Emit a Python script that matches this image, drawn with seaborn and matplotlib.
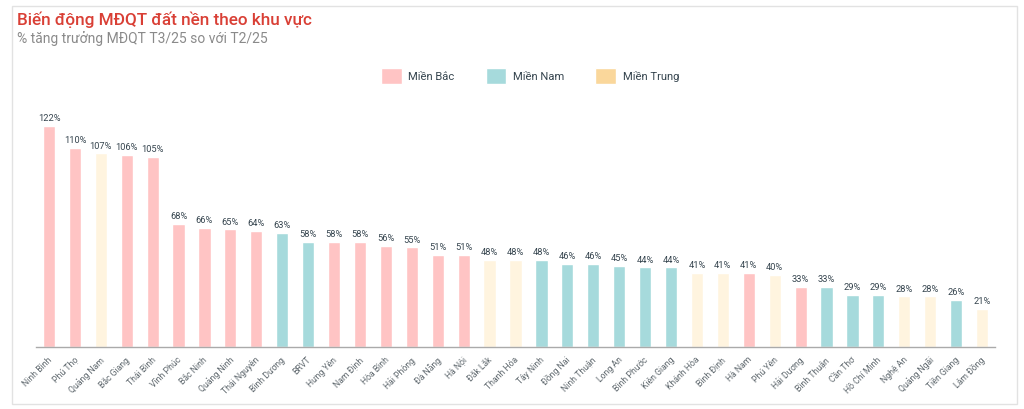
import matplotlib
matplotlib.use("Agg")
import matplotlib.pyplot as plt
from matplotlib.patches import Patch, Rectangle
from matplotlib.transforms import ScaledTranslation
import pandas as pd
import seaborn as sns

provinces = ["Ninh Bình", "Phú Thọ", "Quảng Nam", "Bắc Giang", "Thái Bình", "Vĩnh Phúc", "Bắc Ninh",
             "Quảng Ninh", "Thái Nguyên", "Bình Dương", "BRVT", "Hưng Yên", "Nam Định", "Hòa Bình",
             "Hải Phòng", "Đà Nẵng", "Hà Nội", "Đắk Lắk", "Thanh Hóa", "Tây Ninh", "Đồng Nai",
             "Ninh Thuận", "Long An", "Bình Phước", "Kiên Giang", "Khánh Hòa", "Bình Định", "Hà Nam",
             "Phú Yên", "Hải Dương", "Bình Thuận", "Cần Thơ", "Hồ Chí Minh", "Nghệ An", "Quảng Ngãi",
             "Tiền Giang", "Lâm Đồng"]
growth = [122, 110, 107, 106, 105, 68, 66, 65, 64, 63, 58, 58, 58, 56, 55, 51, 51, 48, 48, 48, 46,
          46, 45, 44, 44, 41, 41, 41, 40, 33, 33, 29, 29, 28, 28, 26, 21]
regions = ["Miền Bắc", "Miền Bắc", "Miền Trung", "Miền Bắc", "Miền Bắc", "Miền Bắc", "Miền Bắc",
           "Miền Bắc", "Miền Bắc", "Miền Nam", "Miền Nam", "Miền Bắc", "Miền Bắc", "Miền Bắc",
           "Miền Bắc", "Miền Bắc", "Miền Bắc", "Miền Trung", "Miền Trung", "Miền Nam", "Miền Nam",
           "Miền Nam", "Miền Nam", "Miền Nam", "Miền Nam", "Miền Trung", "Miền Trung", "Miền Bắc",
           "Miền Trung", "Miền Bắc", "Miền Nam", "Miền Nam", "Miền Nam", "Miền Trung", "Miền Trung",
           "Miền Nam", "Miền Trung"]
bar_colors = {"Miền Bắc": "#FFC4C4", "Miền Nam": "#A6DADC", "Miền Trung": "#FFF4DF"}
legend_colors = {"Miền Bắc": "#FFC4C4", "Miền Nam": "#A6DADC", "Miền Trung": "#FAD79B"}

sns.set_theme(style="white")
plt.rcParams["font.family"] = ["Roboto", "DejaVu Sans"]

W, H = 1024, 409
df = pd.DataFrame({"province": provinces, "growth": growth, "region": regions})

fig = plt.figure(figsize=(W / 100, H / 100), dpi=100)
# card border, behind the axes
fig.add_artist(Rectangle((12 / W, 1 - 404 / H), 1005 / W, 398 / H, transform=fig.transFigure,
                         facecolor="white", edgecolor="#E2E2E2", linewidth=1, zorder=-1))

ax = fig.add_axes([36 / W, 1 - 347 / H, 959 / W, 237 / H])
ax.patch.set_alpha(0)
sns.barplot(data=df, x="province", y="growth", hue="region", order=provinces, palette=bar_colors,
            dodge=False, width=0.47, saturation=1, legend=False, ax=ax)
for c in ax.containers:
    ax.bar_label(c, fmt="%d%%", padding=2, fontsize=6.7, color="#36454F")

ax.set_xlim(-0.5, len(provinces) - 0.5)
ax.set_ylim(0, 237 / 1.81)
ax.set_xlabel("")
ax.set_ylabel("")
ax.set_yticks([])
ax.tick_params(axis="x", length=0, pad=6)
plt.setp(ax.get_xticklabels(), rotation=45, ha="right", rotation_mode="anchor", fontsize=6.2, color="#5F686E")
shift = ScaledTranslation(-1.5 / 100, 0, fig.dpi_scale_trans)
for lab in ax.get_xticklabels():
    lab.set_transform(lab.get_transform() + shift)
sns.despine(ax=ax, left=True)
ax.spines["bottom"].set_color("#AAAAAA")
ax.spines["bottom"].set_linewidth(1)

fig.text(17 / W, 1 - 20 / H, "Biến động MĐQT đất nền theo khu vực", fontsize=12.3, fontweight="medium",
         color="#D93F35", va="center")
fig.text(17 / W, 1 - 39 / H, "% tăng trưởng MĐQT T3/25 so với T2/25", fontsize=10.03, color="#8A8A8A", va="center")

handles = [Patch(facecolor=legend_colors[r], label=r) for r in legend_colors]
fig.legend(handles=handles, loc="center", bbox_to_anchor=(530 / W, 1 - 76 / H), ncol=3, frameon=False,
           fontsize=8.1, labelcolor="#36454F", handlelength=1.85, handleheight=1.8, handletextpad=0.6,
           columnspacing=2.75)

fig.savefig("out.png", dpi=100)
plt.close(fig)
